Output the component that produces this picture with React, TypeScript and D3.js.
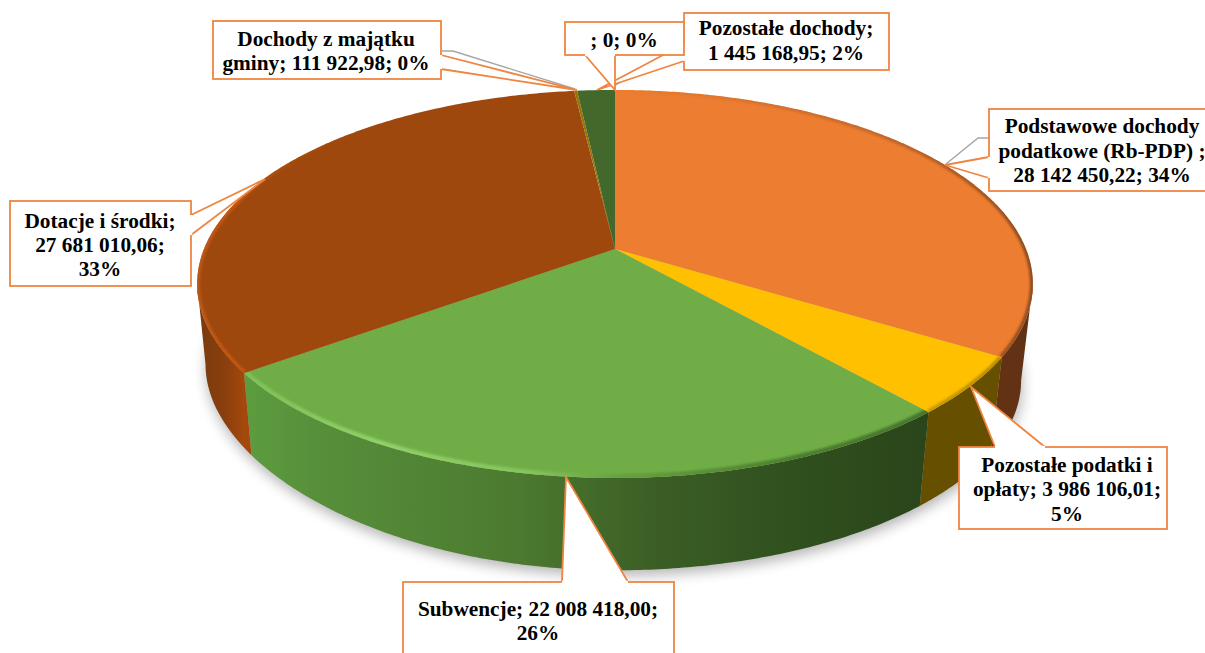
import React from "react";
import * as d3 from "d3";

const categories = ["Podstawowe dochody podatkowe (Rb-PDP)", "Pozostałe podatki i opłaty", "Subwencje", "Dotacje i środki", "Dochody z majątku gminy", "", "Pozostałe dochody"];
const values = [28142450.22, 3986106.01, 22008418.0, 27681010.06, 111922.98, 0, 1445168.95];
const colors = ["#ED7D31", "#FFC000", "#70AD47", "#9E480E", "#997300", "#264478", "#43682B"];
const sideStops: [number, string][][] = [
  [[0, "#633214"], [1, "#633214"]],
  [[0, "#665000"], [1, "#665000"]],
  [[0, "#5d9c3f"], [0.12, "#568e3a"], [0.4, "#4c7a30"], [0.5, "#436b2a"], [0.6, "#3b5e25"], [0.8, "#30501e"], [1, "#2a451a"]],
  [[0, "#783a10"], [0.6, "#8a3f0c"], [1, "#a5480c"]],
  [[0, "#665000"], [1, "#665000"]],
  [[0, "#264478"], [1, "#264478"]],
  [[0, "#2c451c"], [1, "#2c451c"]],
];
const rimStops: [number, string, number][][] = [
  [[0, "#a85a26", 0], [0.6, "#a85a26", 0.55], [1, "#8f4c20", 1]],
  [[0, "#c99a00", 1], [1, "#b88c00", 1]],
  [[0, "#7fc055", 1], [0.2, "#90d268", 1], [0.42, "#84c45c", 1], [0.55, "#66a03f", 1], [0.8, "#4d7f30", 1], [1, "#47752c", 1]],
  [[0, "#c25a18", 0.8], [0.1, "#c9570f", 1], [0.25, "#b24f10", 0.4], [0.5, "#b24f10", 0], [1, "#b24f10", 0]],
  [[0, "#997300", 0], [1, "#997300", 0]],
  [[0, "#264478", 0], [1, "#264478", 0]],
  [[0, "#43682B", 0], [1, "#43682B", 0]],
];
type Label = { lines: string[]; cx: number; baselines: number[]; box: [number, number, number, number]; wedge: [number, number][]; leader?: [number, number][] };
const labels: Label[] = [
  { lines: ["Pozostałe dochody;", "1 445 168,95; 2%"], cx: 786, baselines: [35, 60], box: [684, 13, 889, 70], wedge: [[684, 44], [597, 90], [684, 61]], leader: [[684, 44], [667, 55], [614, 86]] },
  { lines: ["; 0; 0%"], cx: 624, baselines: [47], box: [565, 22, 684, 55], wedge: [[585, 55], [615, 90], [615, 55]] },
  { lines: ["Dochody z majątku", "gminy; 111 922,98; 0%"], cx: 326, baselines: [46, 70], box: [213, 21, 441, 79], wedge: [[441, 55], [577, 90], [441, 69]], leader: [[441, 51], [453, 51], [575, 89]] },
  { lines: ["Dotacje i środki;", "27 681 010,06;", "33%"], cx: 100, baselines: [228, 252, 276], box: [10, 201, 191, 286], wedge: [[191, 215], [265, 179], [191, 235]] },
  { lines: ["Subwencje; 22 008 418,00;", "26%"], cx: 538, baselines: [616, 640], box: [403, 582, 674, 670], wedge: [[562, 582], [566, 477], [628, 582]] },
  { lines: ["Pozostałe podatki i", "opłaty; 3 986 106,01;", "5%"], cx: 1067, baselines: [472, 496, 521], box: [959, 447, 1167, 529], wedge: [[995, 447], [971, 387], [1045, 447]] },
  { lines: ["Podstawowe dochody", "podatkowe (Rb-PDP) ;", "28 142 450,22; 34%"], cx: 1102, baselines: [133, 158, 182], box: [989, 109, 1225, 191], wedge: [[989, 157], [945, 165], [989, 178]], leader: [[989, 138], [978, 138], [946, 164]] },
];

const CX = 615, CY = 249, A = 411, B = 187.7, P = 0.18;
const topPt = (t: number): [number, number] => {
  const u = Math.sin(t), v = -Math.cos(t), w = 1 - P * v;
  return [CX + (A * u) / w, CY + (B * v) / w];
};
const botPt = (t: number): [number, number] => {
  const u = Math.sin(t), v = -Math.cos(t), w = 1 - P * v;
  const dx = (A * u) / w;
  const dy = 346 + (0.98 * B * v) / w;
  const x = dx * (dx > 0 ? 0.972 : 0.98);
  const lift = dx < 0 ? 12 * (dx / 363) * (dx / 363) : 0;
  return [CX + x, dy - lift];
};
const line = d3.line();
const arcPts = (f: (t: number) => [number, number], a: number, b: number) => {
  const n = Math.max(2, Math.ceil(Math.abs(b - a) / 0.01));
  const s = d3.scaleLinear().domain([0, n]).range([a, b]);
  return d3.range(n + 1).map((i) => f(s(i)));
};

const FONT = "'Liberation Serif', 'Times New Roman', serif";
const ORANGE = "#EF8541";

export default function App() {
  const arcs = d3.pie<number>().sort(null)(values);
  const visLo = (100.4 * Math.PI) / 180, visHi = (259.6 * Math.PI) / 180;
  const whole = line(arcPts(botPt, 0, 2 * Math.PI)) + "Z";
  const sides = arcs
    .map((d, i) => ({ i, a: Math.max(d.startAngle, visLo), b: Math.min(d.endAngle, visHi), orig: d }))
    .filter((s) => s.b > s.a);
  const xOf = (t: number) => topPt(t)[0];
  return (
    <svg width={1205} height={653} style={{ position: "fixed", left: 0, top: 0, background: "#fff" }}>
      <defs>
        <filter id="shadow" x="-10%" y="-10%" width="120%" height="130%"><feGaussianBlur stdDeviation="7" /></filter>
        <filter id="soft" x="-5%" y="-5%" width="110%" height="110%"><feGaussianBlur stdDeviation="1.2" /></filter>
        {sides.map((s) => {
          const x0 = s.i === 3 ? 197 : Math.min(xOf(s.a), xOf(s.b));
          const x1 = s.i === 0 ? 1033 : Math.max(xOf(s.a), xOf(s.b));
          return (
            <linearGradient key={s.i} id={`side${s.i}`} gradientUnits="userSpaceOnUse" x1={x0} x2={x1} y1={0} y2={0}>
              {sideStops[s.i].map(([o, c]) => <stop key={o} offset={o} stopColor={c} />)}
            </linearGradient>
          );
        })}
        {arcs.map((d, i) => {
          const pts = arcPts(topPt, d.startAngle, d.endAngle);
          const ext = d3.extent(pts, (p) => p[0]) as [number, number];
          return (
            <linearGradient key={i} id={`rim${i}`} gradientUnits="userSpaceOnUse" x1={ext[0]} x2={ext[1] + 0.01} y1={0} y2={0}>
              {rimStops[i].map(([o, c, op]) => <stop key={o} offset={o} stopColor={c} stopOpacity={op} />)}
            </linearGradient>
          );
        })}
        {arcs.map((d, i) => {
          const pts = d.endAngle > d.startAngle ? [[CX, CY] as [number, number], ...arcPts(topPt, d.startAngle, d.endAngle)] : [];
          return <clipPath key={i} id={`face${i}`}><path d={pts.length ? line(pts) + "Z" : ""} /></clipPath>;
        })}
      </defs>

      <path d={whole} fill="#000" opacity={0.3} filter="url(#shadow)" transform="translate(1,5)" />

      {sides.map((s) => {
        const top = arcPts(topPt, s.a, s.b);
        const bot = arcPts(botPt, s.b, s.a);
        return <path key={s.i} d={line([...top, ...bot]) + "Z"} fill={`url(#side${s.i})`} />;
      })}

      {arcs.map((d, i) => {
        if (d.endAngle <= d.startAngle) return null;
        const pts: [number, number][] = [[CX, CY], ...arcPts(topPt, d.startAngle, d.endAngle)];
        return <path key={i} d={line(pts) + "Z"} fill={colors[i]} />;
      })}

      {arcs.map((d, i) => {
        if (d.endAngle <= d.startAngle) return null;
        return (
          <g key={i} clipPath={`url(#face${i})`}>
            <path d={line(arcPts(topPt, d.startAngle, d.endAngle)) as string} fill="none" stroke={`url(#rim${i})`} strokeWidth={i === 2 ? 8 : 6} filter="url(#soft)" />
          </g>
        );
      })}

      {labels.map((l, i) => {
        const [x0, y0, x1, y1] = l.box;
        return (
          <g key={i}>
            {l.leader && <path d={line(l.leader) as string} fill="none" stroke="#A6A6A6" strokeWidth={1.4} />}
            <path d={line(l.wedge) as string} fill="#fff" stroke={ORANGE} strokeWidth={1.8} strokeLinejoin="miter" />
            <rect x={x0} y={y0} width={x1 - x0} height={y1 - y0} fill="#fff" stroke={ORANGE} strokeWidth={1.8} />
            <path d={line([l.wedge[0], l.wedge[2]]) as string} stroke="#fff" strokeWidth={2.4} fill="none" />
            {l.lines.map((t, k) => (
              <text key={k} x={l.cx} y={l.baselines[k]} textAnchor="middle" fontFamily={FONT} fontWeight="bold" fontSize={21.3} fill="#000">{t}</text>
            ))}
          </g>
        );
      })}
    </svg>
  );
}
